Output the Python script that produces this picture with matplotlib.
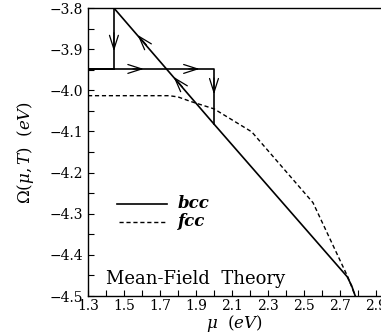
import matplotlib
matplotlib.use("Agg")
import matplotlib.pyplot as plt
from matplotlib.ticker import MultipleLocator, FixedLocator, FuncFormatter

plt.rcParams['font.family'] = 'DejaVu Serif'
plt.rcParams['mathtext.fontset'] = 'dejavuserif'

# bcc free energy (solid)
bcc_mu = [1.444, 2.0, 2.74, 2.765, 2.785]
bcc_omega = [-3.80, -4.082, -4.453, -4.475, -4.50]

# fcc free energy (dashed)
fcc_mu = [1.30, 1.75, 1.80, 1.87, 2.0, 2.21, 2.55, 2.745, 2.785]
fcc_omega = [-4.013, -4.013, -4.016, -4.027, -4.045, -4.101, -4.273, -4.455, -4.50]

# hysteresis path
loop_mu = [1.444, 1.444, 1.30, 2.0, 2.0]
loop_omega = [-3.80, -3.948, -3.948, -3.948, -4.082]

# arrows: (tip, tail) in data coords
arrows = [
    ((1.444, -3.905), (1.444, -3.86)),
    ((1.61, -3.948), (1.55, -3.948)),
    ((1.92, -3.948), (1.86, -3.948)),
    ((2.0, -4.01), (2.0, -3.97)),
    ((1.575, -3.865), (1.625, -3.89)),
    ((1.775, -3.967), (1.825, -3.992)),
]

xticks = [1.3, 1.5, 1.7, 1.9, 2.1, 2.3, 2.5, 2.7, 2.9]
yticks = [-4.5, -4.4, -4.3, -4.2, -4.1, -4.0, -3.9, -3.8]

fig = plt.figure(figsize=(3.81, 3.36), dpi=100)
ax = fig.add_axes([0.231, 0.119, 0.769, 0.857])

ax.plot(bcc_mu, bcc_omega, color='black', lw=1.2)
ax.plot(fcc_mu, fcc_omega, color='black', lw=1.0, ls=(0, (3, 2)))
ax.plot(loop_mu, loop_omega, color='black', lw=1.2)

for tip, tail in arrows:
    ax.annotate('', xy=tip, xytext=tail,
                arrowprops=dict(arrowstyle='->,head_length=1.0,head_width=0.32',
                                color='black', lw=0.9, shrinkA=0, shrinkB=0))

# legend drawn by hand
ax.plot([1.46, 1.74], [-4.276, -4.276], color='black', lw=1.2)
ax.plot([1.47, 1.74], [-4.32, -4.32], color='black', lw=1.0, ls=(0, (3, 2)))
ax.text(1.80, -4.276, 'bcc', fontsize=12, fontweight='bold', style='italic',
        va='center')
ax.text(1.80, -4.32, 'fcc', fontsize=12, fontweight='bold', style='italic',
        va='center')
ax.text(1.40, -4.458, 'Mean-Field  Theory', fontsize=13, va='center')

ax.set_xlim(1.3, 2.928)
ax.set_ylim(-4.5, -3.8)
ax.xaxis.set_major_locator(FixedLocator(xticks))
ax.xaxis.set_minor_locator(MultipleLocator(0.1))
ax.yaxis.set_major_locator(FixedLocator(yticks))
ax.yaxis.set_minor_locator(MultipleLocator(0.05))
fmt = FuncFormatter(lambda v, p: ('%.1f' % v).replace('-', '\u2212'))
ax.xaxis.set_major_formatter(fmt)
ax.yaxis.set_major_formatter(fmt)
ax.tick_params(which='both', direction='in', length=4, width=0.8,
               labelsize=10, top=False, right=False)
ax.tick_params(axis='x', pad=2)
ax.spines['right'].set_visible(False)
for s in ['left', 'bottom', 'top']:
    ax.spines[s].set_linewidth(1.0)

ax.set_xlabel(r'$\mu$  $(eV)$', fontsize=12, labelpad=0)
ax.set_ylabel(r'$\Omega(\mu,T)$  $(eV)$', fontsize=12, labelpad=10)

fig.savefig('out.png', dpi=100)
